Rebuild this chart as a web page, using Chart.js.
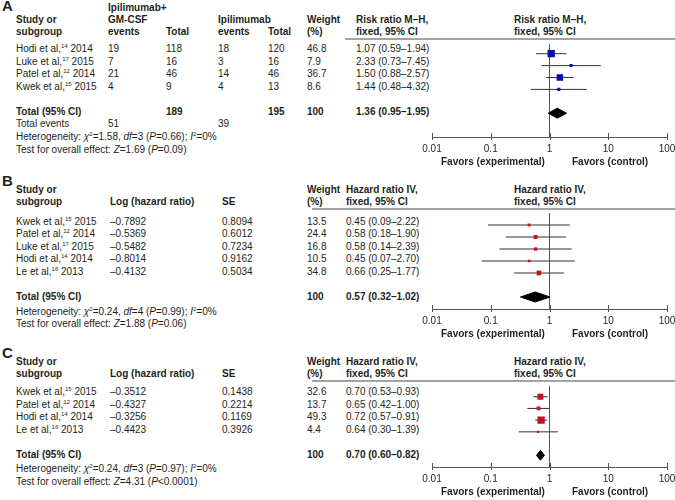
<!DOCTYPE html>
<html>
<head>
<meta charset="utf-8">
<script src="https://cdn.jsdelivr.net/npm/chart.js@4.4.1/dist/chart.umd.min.js"></script>
<style>
  body { margin: 0; width: 675px; height: 500px; overflow: hidden; position: relative; background: #fff;
         font-family: "Liberation Sans", Arial, sans-serif; color: #231f20; }
  .t { position: absolute; font-size: 10px; line-height: 12px; white-space: nowrap; }
  .b { font-weight: bold; }
  .letter { position: absolute; font-size: 15px; line-height: 16px; font-weight: bold; }
  .hline { position: absolute; height: 2px; background: #a3a3a3; right: 0; }
  canvas { position: absolute; left: 0; }
  sup { font-size: 6px; line-height: 0; vertical-align: 4px; }
</style>
</head>
<body>
<script>
// ---- panel A: risk ratio (M-H, fixed) ----
const namesA = ['Hodi et al,', 'Luke et al,', 'Patel et al,', 'Kwek et al,'];
const refsA = ['14', '17', '12', '15'];
const yearsA = ['2014', '2015', '2014', '2015'];
const expEventsA = [19, 7, 21, 4];
const expTotalA = [118, 16, 46, 9];
const ctlEventsA = [18, 3, 14, 4];
const ctlTotalA = [120, 16, 46, 13];
const weightA = [46.8, 7.9, 36.7, 8.6];
const estA = [1.07, 2.33, 1.50, 1.44];
const loA = [0.59, 0.73, 0.88, 0.48];
const hiA = [1.94, 7.45, 2.57, 4.32];
const totalA = [1.36, 0.95, 1.95];   // est, lo, hi
const sumsA = [189, 195, 51, 39];    // exp total, ctl total, exp events, ctl events
const hetA = ['1.58', 3, '0.66', 0];
const testA = ['1.69', '=0.09'];

// ---- panel B: hazard ratio (IV, fixed) ----
const namesB = ['Kwek et al,', 'Patel et al,', 'Luke et al,', 'Hodi et al,', 'Le et al,'];
const refsB = ['15', '12', '17', '14', '16'];
const yearsB = ['2015', '2014', '2015', '2014', '2013'];
const logHrB = [-0.7892, -0.5369, -0.5482, -0.8014, -0.4132];
const seB = [0.8094, 0.6012, 0.7234, 0.9162, 0.5034];
const weightB = [13.5, 24.4, 16.8, 10.5, 34.8];
const estB = [0.45, 0.58, 0.58, 0.45, 0.66];
const loB = [0.09, 0.18, 0.14, 0.07, 0.25];
const hiB = [2.22, 1.90, 2.39, 2.70, 1.77];
const totalB = [0.57, 0.32, 1.02];
const hetB = ['0.24', 4, '0.99', 0];
const testB = ['1.88', '=0.06'];

// ---- panel C: hazard ratio (IV, fixed) ----
const namesC = ['Kwek et al,', 'Patel et al,', 'Hodi et al,', 'Le et al,'];
const refsC = ['15', '12', '14', '16'];
const yearsC = ['2015', '2014', '2014', '2013'];
const logHrC = [-0.3512, -0.4327, -0.3256, -0.4423];
const seC = [0.1438, 0.2214, 0.1169, 0.3926];
const weightC = [32.6, 13.7, 49.3, 4.4];
const estC = [0.70, 0.65, 0.72, 0.64];
const loC = [0.53, 0.42, 0.57, 0.30];
const hiC = [0.93, 1.00, 0.91, 1.39];
const totalC = [0.70, 0.60, 0.82];
const hetC = ['0.24', 3, '0.97', 0];
const testC = ['4.31', '<0.0001'];

const xTicks = [0.01, 0.1, 1, 10, 100];

Chart.defaults.font.family = '"Liberation Sans", Arial, sans-serif';
Chart.defaults.color = '#231f20';

function txt(x, y, html, bold) {
  const d = document.createElement('div');
  d.className = 't' + (bold ? ' b' : '');
  d.style.left = x + 'px';
  d.style.top = (y - 6) + 'px';
  d.innerHTML = html;
  document.body.appendChild(d);
}

function letter(x, y, s) {
  const d = document.createElement('div');
  d.className = 'letter';
  d.style.left = x + 'px';
  d.style.top = (y - 8) + 'px';
  d.textContent = s;
  document.body.appendChild(d);
}

function hline(x, y) {
  const d = document.createElement('div');
  d.className = 'hline';
  d.style.left = x + 'px';
  d.style.top = (y - 1) + 'px';
  document.body.appendChild(d);
}

function rowY(p, i) {
  return p.top + (i - p.yMin) * (p.axisY - p.top) / (p.yMax - p.yMin);
}

const fmtNeg = v => (v < 0 ? '–' : '') + Math.abs(v).toFixed(4);
const fmtCI = (e, l, h) => e.toFixed(2) + ' (' + l.toFixed(2) + '–' + h.toFixed(2) + ')';
const study = (n, r, y) => n + '<sup>' + r + '</sup> ' + y;
const hetText = h => 'Heterogeneity: <i>χ</i><sup>2</sup>=' + h[0] + ', <i>df</i>=' + h[1] +
  ' (<i>P</i>=' + h[2] + '); <i>I</i><sup>2</sup>=' + h[3] + '%';
const testText = t => 'Test for overall effect: <i>Z</i>=' + t[0] + ' (<i>P</i>' + t[1] + ')';

const tickMarks = {
  id: 'tickMarks',
  afterDatasetsDraw(chart) {
    const s = chart.scales.x, ctx = chart.ctx, b = chart.chartArea.bottom;
    ctx.save();
    ctx.strokeStyle = '#555';
    ctx.lineWidth = 1;
    s.ticks.forEach(t => {
      const px = Math.round(s.getPixelForValue(t.value)) + 0.5;
      ctx.beginPath();
      ctx.moveTo(px, b - 4);
      ctx.lineTo(px, b + 3);
      ctx.stroke();
    });
    ctx.restore();
  }
};

function forest(p, est, lo, hi, w, tot, color, k) {
  const cv = document.createElement('canvas');
  cv.width = 700;
  cv.height = p.axisY - p.top + 20;
  cv.style.top = p.top + 'px';
  document.body.appendChild(cv);

  const rows = est.map((_, i) => i + 1);
  const datasets = [{
    data: est.map((v, i) => ({ x: v, y: rows[i] })),
    pointStyle: 'rect',
    pointRadius: w.map(v => k * Math.sqrt(v) / Math.SQRT2),
    backgroundColor: color,
    borderWidth: 0,
    order: 0
  }];
  est.forEach((v, i) => datasets.push({
    data: [{ x: lo[i], y: rows[i] }, { x: hi[i], y: rows[i] }],
    showLine: true, borderColor: '#333', borderWidth: 1, pointRadius: 0, order: 1
  }));
  const t = p.totalRow, h = 0.42;
  datasets.push({
    data: [{ x: tot[1], y: t }, { x: tot[0], y: t - h }, { x: tot[2], y: t }, { x: tot[0], y: t + h }, { x: tot[1], y: t }],
    showLine: true, fill: 'shape', backgroundColor: '#000', borderColor: '#000', borderWidth: 1,
    pointRadius: 0, tension: 0, order: 0
  });
  datasets.push({
    data: [{ x: 1, y: p.yMin }, { x: 1, y: p.yMax }],
    showLine: true, borderColor: '#555', borderWidth: 1, pointRadius: 0, order: 2
  });

  new Chart(cv.getContext('2d'), {
    type: 'scatter',
    data: { datasets },
    options: {
      responsive: false,
      animation: false,
      devicePixelRatio: 1,
      events: [],
      layout: { padding: { left: 432, right: 33, top: 0, bottom: 0 } },
      plugins: { legend: { display: false }, tooltip: { enabled: false } },
      scales: {
        x: {
          type: 'logarithmic', min: 0.01, max: 100,
          afterBuildTicks: s => { s.ticks = xTicks.map(v => ({ value: v })); },
          afterFit: s => { s.height = 20; },
          ticks: { callback: v => String(v), font: { size: 10 }, color: '#231f20', padding: 2, maxRotation: 0, autoSkip: false },
          grid: { display: false, drawTicks: true, tickLength: 4 },
          border: { display: true, color: '#555', width: 1 }
        },
        y: { type: 'linear', reverse: true, min: p.yMin, max: p.yMax, display: false }
      }
    },
    plugins: [tickMarks]
  });

  txt(441, p.axisY + 25, 'Favors (experimental)', true);
  txt(572, p.axisY + 25, 'Favors (control)', true);
}

// ---------- Panel A ----------
const pA = { top: 39, axisY: 137, yMin: 0.2, yMax: 8, totalRow: 6 };
letter(2, 6, 'A');
txt(16, pA.top - 19, 'Study or', true); txt(16, pA.top - 7, 'subgroup', true);
txt(108, pA.top - 31, 'Ipilimumab+', true); txt(108, pA.top - 19, 'GM-CSF', true); txt(108, pA.top - 7, 'events', true);
txt(166, pA.top - 7, 'Total', true);
txt(218, pA.top - 19, 'Ipilimumab', true); txt(218, pA.top - 7, 'events', true);
txt(268, pA.top - 7, 'Total', true);
txt(307, pA.top - 19, 'Weight', true); txt(307, pA.top - 7, '(%)', true);
txt(356, pA.top - 19, 'Risk ratio M–H,', true); txt(356, pA.top - 7, 'fixed, 95% CI', true);
txt(514, pA.top - 19, 'Risk ratio M–H,', true); txt(514, pA.top - 7, 'fixed, 95% CI', true);
hline(345, pA.top);
namesA.forEach((n, i) => {
  const y = rowY(pA, i + 1);
  txt(16, y, study(n, refsA[i], yearsA[i]));
  txt(108, y, expEventsA[i]); txt(166, y, expTotalA[i]);
  txt(218, y, ctlEventsA[i]); txt(268, y, ctlTotalA[i]);
  txt(307, y, weightA[i].toFixed(1));
  txt(356, y, fmtCI(estA[i], loA[i], hiA[i]));
});
let y = rowY(pA, 6);
txt(16, y, 'Total (95% CI)', true); txt(166, y, sumsA[0], true); txt(268, y, sumsA[1], true);
txt(307, y, '100', true); txt(356, y, fmtCI(totalA[0], totalA[1], totalA[2]), true);
y = rowY(pA, 7);
txt(16, y, 'Total events'); txt(108, y, sumsA[2]); txt(218, y, sumsA[3]);
txt(16, rowY(pA, 8), hetText(hetA));
txt(16, rowY(pA, 9), testText(testA));
forest(pA, estA, loA, hiA, weightA, totalA, '#0b0bb4', 1.07);

// ---------- Panels B and C ----------
function hrPanel(p, lab, names, refs, years, logHr, se, weight, est, lo, hi, tot, het, test, k) {
  letter(2, p.top - 28, lab);
  txt(16, p.top - 19, 'Study or', true); txt(16, p.top - 7, 'subgroup', true);
  txt(110, p.top - 7, 'Log (hazard ratio)', true);
  txt(222, p.top - 7, 'SE', true);
  txt(307, p.top - 19, 'Weight', true); txt(307, p.top - 7, '(%)', true);
  txt(346, p.top - 19, 'Hazard ratio IV,', true); txt(346, p.top - 7, 'fixed, 95% CI', true);
  txt(514, p.top - 19, 'Hazard ratio IV,', true); txt(514, p.top - 7, 'fixed, 95% CI', true);
  hline(312, p.top);
  names.forEach((n, i) => {
    const yy = rowY(p, i + 1);
    txt(16, yy, study(n, refs[i], years[i]));
    txt(110, yy, fmtNeg(logHr[i]));
    txt(222, yy, se[i].toFixed(4));
    txt(307, yy, weight[i].toFixed(1));
    txt(346, yy, fmtCI(est[i], lo[i], hi[i]));
  });
  const yt = rowY(p, p.totalRow);
  txt(16, yt, 'Total (95% CI)', true); txt(307, yt, '100', true);
  txt(346, yt, fmtCI(tot[0], tot[1], tot[2]), true);
  txt(16, rowY(p, p.totalRow + 1.2), hetText(het));
  txt(16, rowY(p, p.totalRow + 2.2), testText(test));
  forest(p, est, lo, hi, weight, tot, '#c0141e', k);
}

const pB = { top: 209, axisY: 309, yMin: 0, yMax: 8, totalRow: 7 };
hrPanel(pB, 'B', namesB, refsB, yearsB, logHrB, seB, weightB, estB, loB, hiB, totalB, hetB, testB, 0.8);

const pC = { top: 381, axisY: 467, yMin: 0.1, yMax: 7, totalRow: 6 };
hrPanel(pC, 'C', namesC, refsC, yearsC, logHrC, seC, weightC, estC, loC, hiC, totalC, hetC, testC, 1.04);
</script>
</body>
</html>
